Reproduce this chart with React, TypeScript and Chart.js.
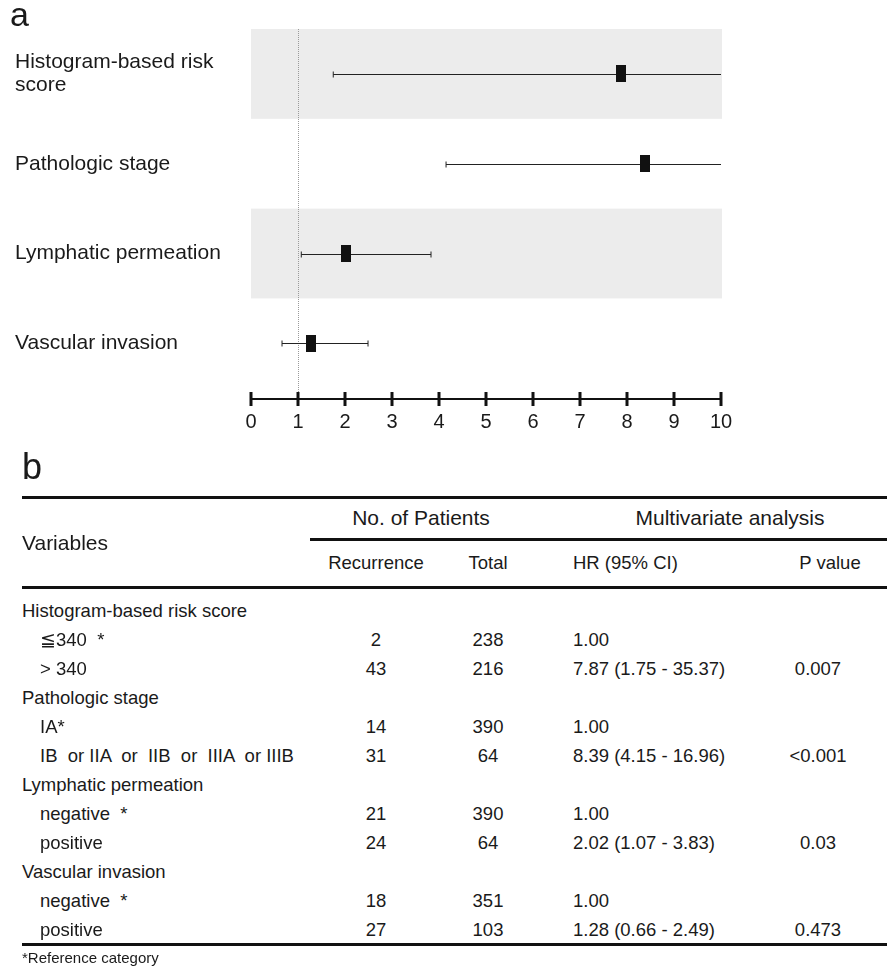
import React, { useEffect, useRef } from "react";
import { Chart, registerables } from "chart.js";

Chart.register(...registerables);

// ---- forest plot data (panel a) ----
const rowLabels: (string | string[])[] = [
  ["Histogram-based risk", "score"],
  "Pathologic stage",
  "Lymphatic permeation",
  "Vascular invasion",
];
const hazardRatios = [7.87, 8.39, 2.02, 1.28];
const ciLower = [1.75, 4.15, 1.07, 0.66];
const ciUpper = [35.37, 16.96, 3.83, 2.49];
const shadedRows = [1, 3];
const xTickValues = [0, 1, 2, 3, 4, 5, 6, 7, 8, 9, 10];
const referenceHR = 1;

// ---- multivariate table data (panel b) ----
const variableLabels = [
  "Histogram-based risk score",
  "≦340  *",
  "> 340",
  "Pathologic stage",
  "IA*",
  "IB  or IIA  or  IIB  or  IIIA  or IIIB",
  "Lymphatic permeation",
  "negative  *",
  "positive",
  "Vascular invasion",
  "negative  *",
  "positive",
];
const isSubRow = [false, true, true, false, true, true, false, true, true, false, true, true];
const recurrenceCounts = ["", "2", "43", "", "14", "31", "", "21", "24", "", "18", "27"];
const totalCounts = ["", "238", "216", "", "390", "64", "", "390", "64", "", "351", "103"];
// index into hazardRatios for rows with an estimate; -1 = reference (1.00), null = group header
const hrRowIndex: (number | null)[] = [null, -1, 0, null, -1, 1, null, -1, 2, null, -1, 3];
const pValues = ["", "", "0.007", "", "", "<0.001", "", "", "0.03", "", "", "0.473"];

const FONT = '"Liberation Sans", Arial, Helvetica, sans-serif';
const TEXT = "#1a1a1a";

function hrCell(idx: number | null): string {
  if (idx === null) return "";
  if (idx < 0) return "1.00";
  return `${hazardRatios[idx].toFixed(2)} (${ciLower[idx].toFixed(2)} - ${ciUpper[idx].toFixed(2)})`;
}

function makeBox(): HTMLCanvasElement {
  const c = document.createElement("canvas");
  c.width = 10;
  c.height = 17;
  const g = c.getContext("2d")!;
  g.fillStyle = "#111111";
  g.fillRect(0, 0, 10, 17);
  return c;
}

const forestPlugin = {
  id: "forestDecor",
  beforeDatasetsDraw(chart: any) {
    const { ctx, scales, chartArea } = chart;
    const x = scales.x;
    const y = scales.y;
    const x0 = x.getPixelForValue(x.min);
    const x1 = x.getPixelForValue(x.max);
    ctx.save();

    // alternating row shading
    ctx.fillStyle = "#ececec";
    shadedRows.forEach((r) => {
      const top = y.getPixelForValue(r - 0.5);
      const bot = y.getPixelForValue(r + 0.5);
      ctx.fillRect(x0, top, x1 - x0 + 1, bot - top);
    });

    // dotted line of no effect
    const xr = Math.round(x.getPixelForValue(referenceHR)) + 0.5;
    ctx.strokeStyle = "#9a9a9a";
    ctx.lineWidth = 1;
    ctx.setLineDash([1, 1]);
    ctx.beginPath();
    ctx.moveTo(xr, chartArea.top);
    ctx.lineTo(xr, chartArea.bottom);
    ctx.stroke();
    ctx.setLineDash([]);

    // confidence intervals, clipped at the axis maximum
    ctx.strokeStyle = "#222222";
    ctx.lineWidth = 1;
    hazardRatios.forEach((_, i) => {
      const yy = Math.round(y.getPixelForValue(i + 1)) + 0.5;
      const lo = x.getPixelForValue(Math.max(ciLower[i], x.min));
      const hi = x.getPixelForValue(Math.min(ciUpper[i], x.max));
      ctx.beginPath();
      ctx.moveTo(lo, yy);
      ctx.lineTo(hi, yy);
      if (ciLower[i] >= x.min) {
        ctx.moveTo(lo, yy - 3);
        ctx.lineTo(lo, yy + 3);
      }
      if (ciUpper[i] <= x.max) {
        ctx.moveTo(hi, yy - 3);
        ctx.lineTo(hi, yy + 3);
      }
      ctx.stroke();
    });
    ctx.restore();
  },
  afterDraw(chart: any) {
    const { ctx, scales, chartArea } = chart;
    const x = scales.x;
    const yb = chartArea.bottom;
    ctx.save();
    ctx.strokeStyle = "#111111";
    ctx.lineWidth = 2;
    ctx.beginPath();
    ctx.moveTo(x.getPixelForValue(x.min), yb);
    ctx.lineTo(x.getPixelForValue(x.max), yb);
    ctx.stroke();
    ctx.lineWidth = 3;
    xTickValues.forEach((v) => {
      const px = x.getPixelForValue(v);
      ctx.beginPath();
      ctx.moveTo(px, yb - 7);
      ctx.lineTo(px, yb + 7);
      ctx.stroke();
    });
    ctx.restore();
  },
};

function ForestChart() {
  const ref = useRef<HTMLCanvasElement | null>(null);
  useEffect(() => {
    if (!ref.current) return;
    const box = makeBox();
    const chart = new Chart(ref.current, {
      type: "scatter",
      data: {
        datasets: [
          {
            data: hazardRatios.map((v, i) => ({ x: v, y: i + 1 })),
            pointStyle: box as any,
            pointRadius: 8,
            pointHoverRadius: 8,
          },
        ],
      },
      options: {
        responsive: false,
        animation: false,
        events: [],
        layout: { padding: { left: 15, right: 168, top: 29, bottom: 21 } },
        plugins: { legend: { display: false }, tooltip: { enabled: false } },
        scales: {
          x: {
            type: "linear",
            min: 0,
            max: 10,
            afterBuildTicks: (s: any) => {
              s.ticks = xTickValues.map((v) => ({ value: v }));
            },
            afterFit: (s: any) => {
              s.height = 40;
            },
            grid: { display: false, drawTicks: false },
            border: { display: false },
            ticks: {
              padding: 11,
              color: TEXT,
              font: { family: FONT, size: 20 },
              maxRotation: 0,
              autoSkip: false,
            },
          },
          y: {
            type: "linear",
            min: 0.5,
            max: 4.62,
            reverse: true,
            afterBuildTicks: (s: any) => {
              s.ticks = rowLabels.map((_, i) => ({ value: i + 1 }));
            },
            afterFit: (s: any) => {
              s.width = 236;
            },
            grid: { display: false, drawTicks: false },
            border: { display: false },
            ticks: {
              padding: 0,
              crossAlign: "far",
              color: TEXT,
              font: { family: FONT, size: 21, lineHeight: 1.1 },
              callback: (v: any) => rowLabels[Number(v) - 1] as any,
            },
          },
        },
      },
      plugins: [forestPlugin],
    });
    return () => chart.destroy();
  }, []);
  return <canvas ref={ref} width={889} height={460} style={{ position: "absolute", left: 0, top: 0 }} />;
}

function Txt(props: {
  x: number;
  y: number;
  size: number;
  align?: "left" | "center";
  children: React.ReactNode;
}) {
  const { x, y, size, align = "left", children } = props;
  return (
    <div
      style={{
        position: "absolute",
        left: x,
        top: y - 14,
        height: 28,
        lineHeight: "28px",
        fontFamily: FONT,
        fontSize: size,
        color: TEXT,
        whiteSpace: "pre",
        transform: align === "center" ? "translateX(-50%)" : undefined,
      }}
    >
      {children}
    </div>
  );
}

function Rule(props: { x: number; y: number; w: number }) {
  return (
    <div
      style={{
        position: "absolute",
        left: props.x,
        top: props.y - 1.5,
        width: props.w,
        height: 3,
        background: "#111111",
      }}
    />
  );
}

const colRecurrence = 376;
const colTotal = 488;
const colHR = 573;
const colP = 818;
const firstRowY = 611;
const rowStep = 29;

export default function App() {
  const lastY = firstRowY + rowStep * (variableLabels.length - 1);
  return (
    <div style={{ position: "absolute", left: 0, top: 0, width: 889, height: 968, background: "#fff", overflow: "hidden" }}>
      <ForestChart />
      <Txt x={10} y={14} size={34}>a</Txt>
      <Txt x={22} y={467} size={36}>b</Txt>

      <Rule x={22} y={497} w={865} />
      <Txt x={421} y={518} size={21} align="center">No. of Patients</Txt>
      <Txt x={730} y={518} size={21} align="center">Multivariate analysis</Txt>
      <Rule x={310} y={539} w={577} />
      <Txt x={22} y={543} size={21}>Variables</Txt>
      <Txt x={colRecurrence} y={563} size={18.5} align="center">Recurrence</Txt>
      <Txt x={colTotal} y={563} size={18.5} align="center">Total</Txt>
      <Txt x={colHR} y={563} size={18.5}>HR (95% CI)</Txt>
      <Txt x={830} y={563} size={18.5} align="center">P value</Txt>
      <Rule x={22} y={587} w={865} />

      {variableLabels.map((lab, i) => {
        const y = firstRowY + rowStep * i;
        return (
          <React.Fragment key={i}>
            <Txt x={isSubRow[i] ? 40 : 22} y={y} size={18.5}>{lab}</Txt>
            <Txt x={colRecurrence} y={y} size={18.5} align="center">{recurrenceCounts[i]}</Txt>
            <Txt x={colTotal} y={y} size={18.5} align="center">{totalCounts[i]}</Txt>
            <Txt x={colHR} y={y} size={18.5}>{hrCell(hrRowIndex[i])}</Txt>
            <Txt x={colP} y={y} size={18.5} align="center">{pValues[i]}</Txt>
          </React.Fragment>
        );
      })}
      <Rule x={22} y={lastY + 14} w={865} />
      <Txt x={22} y={lastY + 28} size={15}>*Reference category</Txt>
    </div>
  );
}
